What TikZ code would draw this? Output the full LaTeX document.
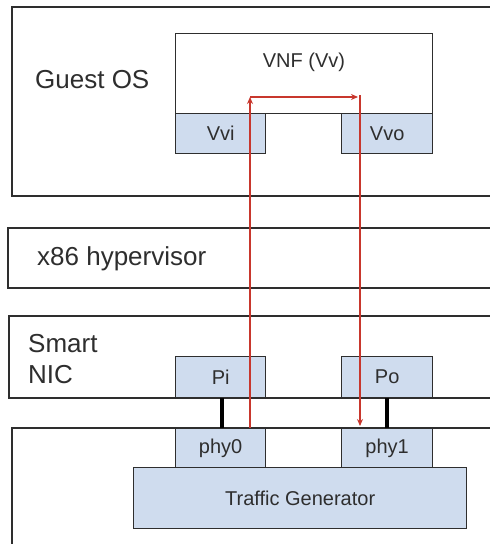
\documentclass[tikz,border=0pt]{standalone}
\usepackage{fontspec}
\setmainfont{Liberation Sans}
\usetikzlibrary{arrows.meta}
\definecolor{portblue}{HTML}{CFDCEE}
\definecolor{flowred}{HTML}{C8372D}
\definecolor{ink}{HTML}{2E2E2E}
\tikzset{
  x=1pt, y=-1pt,
  layer/.style={draw=ink, line width=1.5pt, fill=white, inner sep=0pt},
  port/.style={draw=ink, line width=1.3pt, fill=portblue, inner sep=0pt, text=ink,
    font=\fontsize{20}{24}\selectfont},
  biglabel/.style={text=ink, inner sep=0pt, anchor=west, align=left,
    font=\fontsize{26}{32}\selectfont},
  smalllabel/.style={text=ink, inner sep=0pt, font=\fontsize{20}{24}\selectfont},
  link/.style={line width=4pt, draw=black},
  flow/.style={draw=flowred, line width=1.3pt, -{Stealth[length=7pt,width=6pt]}}
}
\begin{document}
\begin{tikzpicture}
\useasboundingbox (0,0) rectangle (490,544);
\clip (0,0) rectangle (490,544);
% outer layers (right side runs past the edge)
\node[layer, minimum width=509, minimum height=189, anchor=north west] (guest) at (11,6) {};
\node[layer, minimum width=513, minimum height=60, anchor=north west] (hyp) at (7,227) {};
\node[layer, minimum width=512, minimum height=82, anchor=north west] (nic) at (8,315) {};
\node[layer, minimum width=509, minimum height=140, anchor=north west] (host) at (11,427) {};
% layer labels
\node[biglabel] (guestlbl) at (35,80) {Guest OS};
\node[biglabel] (hyplbl) at (37,259) {x86 hypervisor};
\node[biglabel] (niclbl) at (28,359) {Smart\\[-1pt]NIC};
% VNF and its virtual ports
\node[draw=ink, line width=1.3pt, fill=white, minimum width=257, minimum height=80, anchor=north west] (vnf) at (175,33) {};
\node[smalllabel] (vnflbl) at (304,62) {VNF (Vv)};
\node[port, minimum width=90, minimum height=40, anchor=north west] (vvi) at (175,113) {Vvi};
\node[port, minimum width=91, minimum height=40, anchor=north west] (vvo) at (341,113) {Vvo};
% NIC ports
\node[port, minimum width=90, minimum height=41, anchor=north west] (pi) at (175,356) {Pi};
\node[port, minimum width=91, minimum height=41, anchor=north west] (po) at (341,356) {Po};
% traffic generator and its physical ports
\node[port, minimum width=90, minimum height=39, anchor=north west] (phy0) at (175,428) {phy0};
\node[port, minimum width=91, minimum height=39, anchor=north west] (phy1) at (341,428) {phy1};
\node[port, minimum width=333, minimum height=61, anchor=north west] (tg) at (133,467) {Traffic Generator};
% cables between NIC ports and physical ports
\draw[link] ([xshift=1pt]pi.south) -- ([xshift=1pt]phy0.north);
\draw[link] (po.south) -- (phy1.north);
% packet path
\coordinate (upin) at (250,428);
\coordinate (turnl) at (250,97);
\coordinate (turnr) at (358,97);
\coordinate (topr) at (360,95);
\coordinate (downout) at (360,426);
\draw[flow] (upin) -- (turnl);
\draw[flow] (turnl) -- (turnr);
\draw[flow] (topr) -- (downout);
\end{tikzpicture}
\end{document}
